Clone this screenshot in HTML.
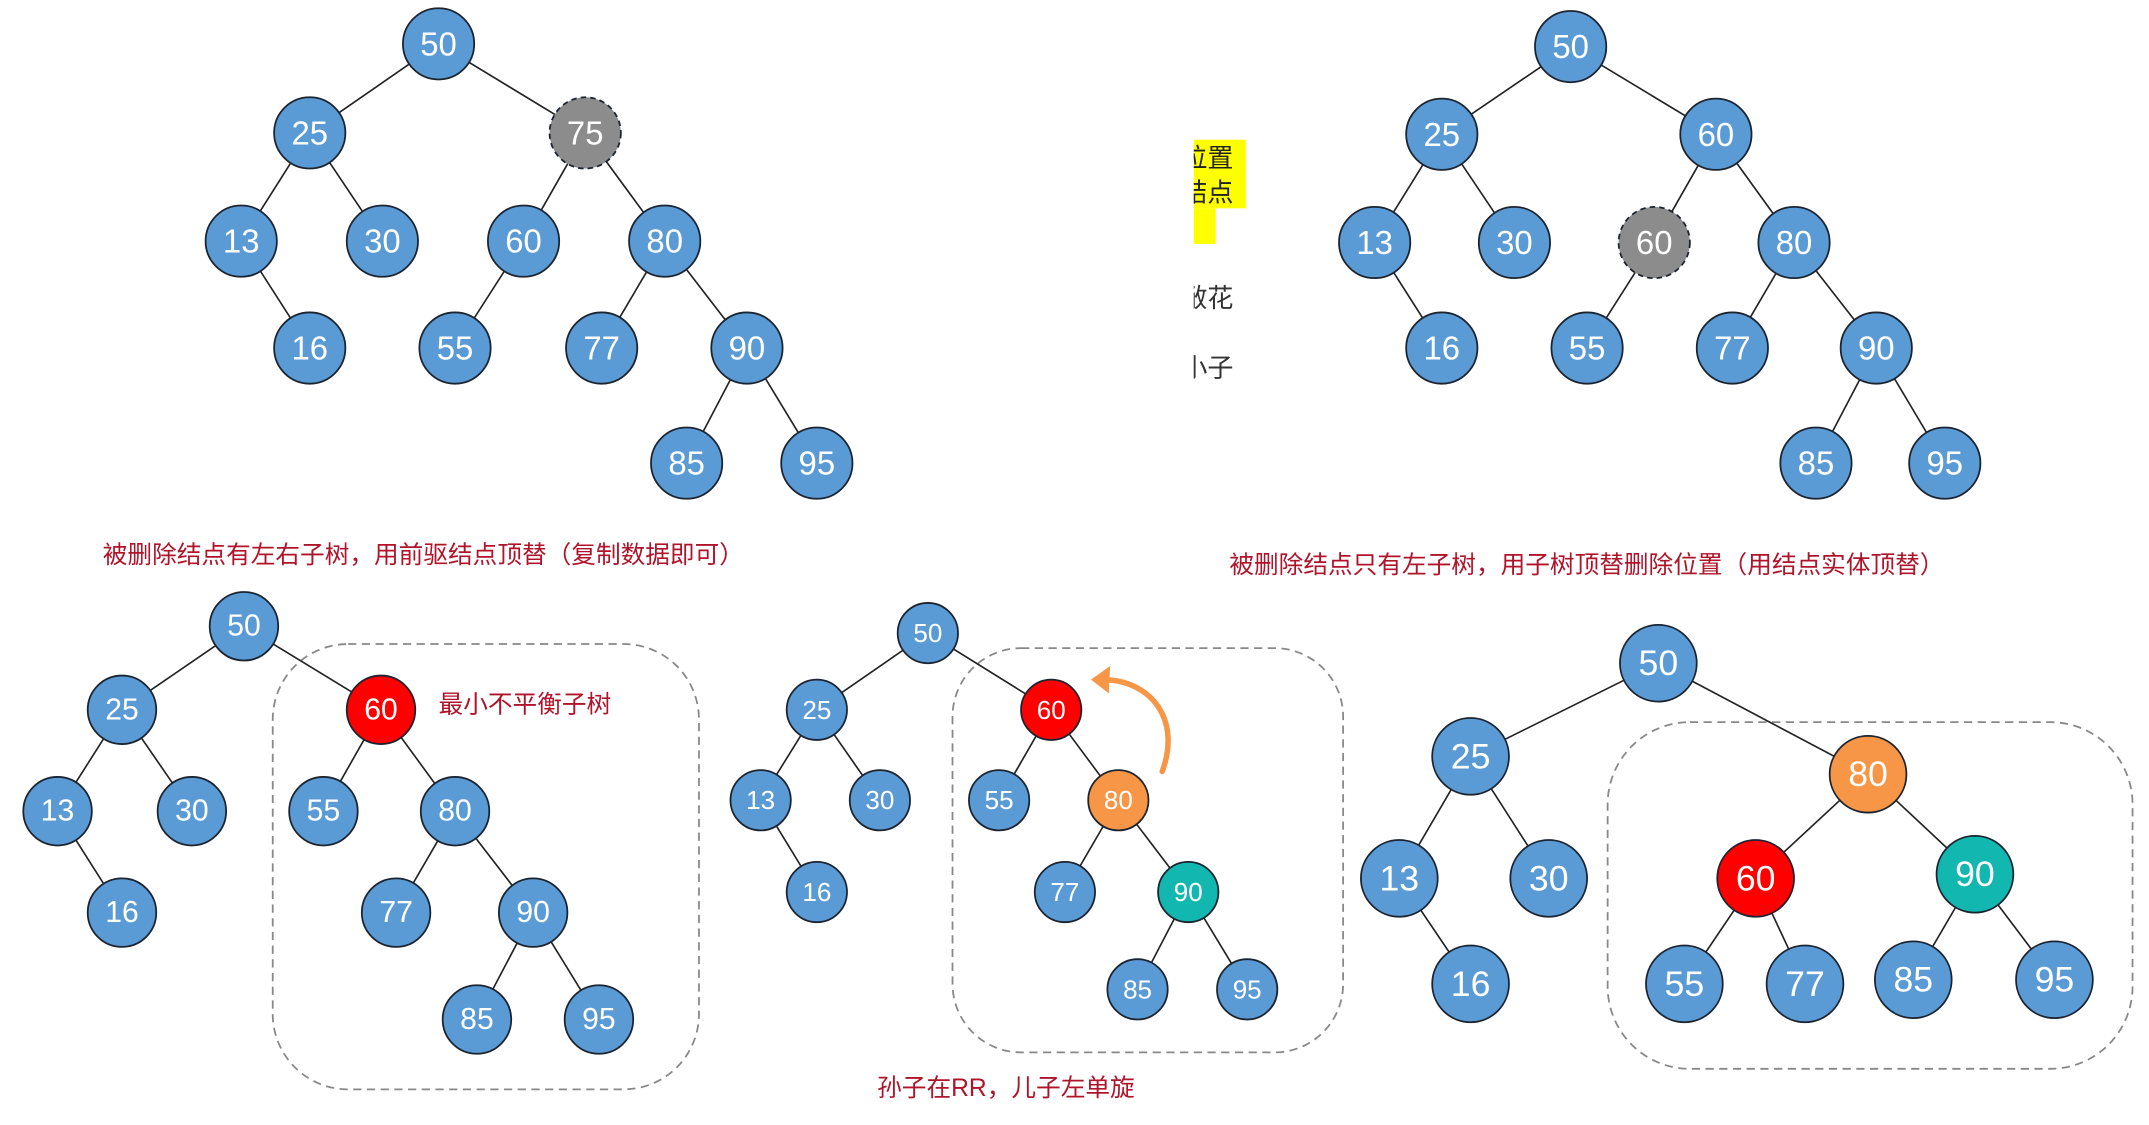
<!DOCTYPE html>
<html><head><meta charset="utf-8"><style>
html,body{margin:0;padding:0;background:#fff;}
svg{display:block}
.n{stroke:#1c2430;stroke-width:1.3}
.b{fill:#5b9bd5}.r{fill:#f00}.o{fill:#f79646}.t{fill:#12b8b0}.g{fill:#8c8c8c;stroke-dasharray:4 3}
text{font-family:"Liberation Sans","Noto Sans CJK SC",sans-serif}
.l{fill:#fff;text-anchor:middle;dominant-baseline:central}
line{stroke:#222;stroke-width:1.2}
.cap{fill:#b0142a;font-size:18px}
.box{fill:none;stroke:#888;stroke-width:1.3;stroke-dasharray:6 4}
</style></head><body>
<svg width="2149" height="1125" viewBox="0 0 1568 821" preserveAspectRatio="none" xmlns="http://www.w3.org/2000/svg">
<defs><clipPath id="cp"><rect x="871" y="90" width="60" height="200"/></clipPath></defs>
<!-- Tree 1 -->
<g font-size="24">
<line x1="320" y1="32" x2="226" y2="97"/><line x1="320" y1="32" x2="427" y2="97"/>
<line x1="226" y1="97" x2="176" y2="176"/><line x1="226" y1="97" x2="279" y2="176"/>
<line x1="176" y1="176" x2="226" y2="254"/>
<line x1="427" y1="97" x2="382" y2="176"/><line x1="427" y1="97" x2="485" y2="176"/>
<line x1="382" y1="176" x2="332" y2="254"/>
<line x1="485" y1="176" x2="439" y2="254"/><line x1="485" y1="176" x2="545" y2="254"/>
<line x1="545" y1="254" x2="501" y2="338"/><line x1="545" y1="254" x2="596" y2="338"/>
<circle class="n b" cx="320" cy="32" r="26"/><text class="l" x="320" y="32">50</text>
<circle class="n b" cx="226" cy="97" r="26"/><text class="l" x="226" y="97">25</text>
<circle class="n g" cx="427" cy="97" r="26"/><text class="l" x="427" y="97">75</text>
<circle class="n b" cx="176" cy="176" r="26"/><text class="l" x="176" y="176">13</text>
<circle class="n b" cx="279" cy="176" r="26"/><text class="l" x="279" y="176">30</text>
<circle class="n b" cx="382" cy="176" r="26"/><text class="l" x="382" y="176">60</text>
<circle class="n b" cx="485" cy="176" r="26"/><text class="l" x="485" y="176">80</text>
<circle class="n b" cx="226" cy="254" r="26"/><text class="l" x="226" y="254">16</text>
<circle class="n b" cx="332" cy="254" r="26"/><text class="l" x="332" y="254">55</text>
<circle class="n b" cx="439" cy="254" r="26"/><text class="l" x="439" y="254">77</text>
<circle class="n b" cx="545" cy="254" r="26"/><text class="l" x="545" y="254">90</text>
<circle class="n b" cx="501" cy="338" r="26"/><text class="l" x="501" y="338">85</text>
<circle class="n b" cx="596" cy="338" r="26"/><text class="l" x="596" y="338">95</text>
</g>
<text class="cap" x="75" y="411">被删除结点有左右子树，用前驱结点顶替（复制数据即可）</text>

<!-- middle cropped text -->
<g clip-path="url(#cp)">
<rect x="871" y="102" width="38" height="50" fill="#ffff00"/>
<rect x="871" y="152" width="16" height="26" fill="#ffff00"/>
<g font-size="19" fill="#222">
<text x="862" y="122">位置</text><text x="862" y="147">结点</text><text x="862" y="174">。</text>
<text x="862" y="224" fill="#333">敝花</text><text x="862" y="275" fill="#333">小子</text>
</g></g>

<!-- Tree 2 -->
<g font-size="24">
<line x1="1146" y1="34" x2="1052" y2="98"/><line x1="1146" y1="34" x2="1252" y2="98"/>
<line x1="1052" y1="98" x2="1003" y2="177"/><line x1="1052" y1="98" x2="1105" y2="177"/>
<line x1="1003" y1="177" x2="1052" y2="254"/>
<line x1="1252" y1="98" x2="1207" y2="177"/><line x1="1252" y1="98" x2="1309" y2="177"/>
<line x1="1207" y1="177" x2="1158" y2="254"/>
<line x1="1309" y1="177" x2="1264" y2="254"/><line x1="1309" y1="177" x2="1369" y2="254"/>
<line x1="1369" y1="254" x2="1325" y2="338"/><line x1="1369" y1="254" x2="1419" y2="338"/>
<circle class="n b" cx="1146" cy="34" r="26"/><text class="l" x="1146" y="34">50</text>
<circle class="n b" cx="1052" cy="98" r="26"/><text class="l" x="1052" y="98">25</text>
<circle class="n b" cx="1252" cy="98" r="26"/><text class="l" x="1252" y="98">60</text>
<circle class="n b" cx="1003" cy="177" r="26"/><text class="l" x="1003" y="177">13</text>
<circle class="n b" cx="1105" cy="177" r="26"/><text class="l" x="1105" y="177">30</text>
<circle class="n g" cx="1207" cy="177" r="26"/><text class="l" x="1207" y="177">60</text>
<circle class="n b" cx="1309" cy="177" r="26"/><text class="l" x="1309" y="177">80</text>
<circle class="n b" cx="1052" cy="254" r="26"/><text class="l" x="1052" y="254">16</text>
<circle class="n b" cx="1158" cy="254" r="26"/><text class="l" x="1158" y="254">55</text>
<circle class="n b" cx="1264" cy="254" r="26"/><text class="l" x="1264" y="254">77</text>
<circle class="n b" cx="1369" cy="254" r="26"/><text class="l" x="1369" y="254">90</text>
<circle class="n b" cx="1325" cy="338" r="26"/><text class="l" x="1325" y="338">85</text>
<circle class="n b" cx="1419" cy="338" r="26"/><text class="l" x="1419" y="338">95</text>
</g>
<text class="cap" x="897" y="418">被删除结点只有左子树，用子树顶替删除位置（用结点实体顶替）</text>

<!-- Bottom tree 1 -->
<rect class="box" x="199" y="470" width="311" height="325" rx="55"/>
<g font-size="22">
<line x1="178" y1="457" x2="89" y2="518"/><line x1="178" y1="457" x2="278" y2="518"/>
<line x1="89" y1="518" x2="42" y2="592"/><line x1="89" y1="518" x2="140" y2="592"/>
<line x1="42" y1="592" x2="89" y2="666"/>
<line x1="278" y1="518" x2="236" y2="592"/><line x1="278" y1="518" x2="332" y2="592"/>
<line x1="332" y1="592" x2="289" y2="666"/><line x1="332" y1="592" x2="389" y2="666"/>
<line x1="389" y1="666" x2="348" y2="744"/><line x1="389" y1="666" x2="437" y2="744"/>
<circle class="n b" cx="178" cy="457" r="25"/><text class="l" x="178" y="457">50</text>
<circle class="n b" cx="89" cy="518" r="25"/><text class="l" x="89" y="518">25</text>
<circle class="n r" cx="278" cy="518" r="25"/><text class="l" x="278" y="518">60</text>
<circle class="n b" cx="42" cy="592" r="25"/><text class="l" x="42" y="592">13</text>
<circle class="n b" cx="140" cy="592" r="25"/><text class="l" x="140" y="592">30</text>
<circle class="n b" cx="236" cy="592" r="25"/><text class="l" x="236" y="592">55</text>
<circle class="n b" cx="332" cy="592" r="25"/><text class="l" x="332" y="592">80</text>
<circle class="n b" cx="89" cy="666" r="25"/><text class="l" x="89" y="666">16</text>
<circle class="n b" cx="289" cy="666" r="25"/><text class="l" x="289" y="666">77</text>
<circle class="n b" cx="389" cy="666" r="25"/><text class="l" x="389" y="666">90</text>
<circle class="n b" cx="348" cy="744" r="25"/><text class="l" x="348" y="744">85</text>
<circle class="n b" cx="437" cy="744" r="25"/><text class="l" x="437" y="744">95</text>
</g>
<text class="cap" x="320" y="520">最小不平衡子树</text>

<!-- Bottom tree 2 -->
<rect class="box" x="695" y="473" width="285" height="295" rx="50"/>
<g font-size="19">
<line x1="677" y1="462" x2="596" y2="518"/><line x1="677" y1="462" x2="767" y2="518"/>
<line x1="596" y1="518" x2="555" y2="584"/><line x1="596" y1="518" x2="642" y2="584"/>
<line x1="555" y1="584" x2="596" y2="651"/>
<line x1="767" y1="518" x2="729" y2="584"/><line x1="767" y1="518" x2="816" y2="584"/>
<line x1="816" y1="584" x2="777" y2="651"/><line x1="816" y1="584" x2="867" y2="651"/>
<line x1="867" y1="651" x2="830" y2="722"/><line x1="867" y1="651" x2="910" y2="722"/>
<circle class="n b" cx="677" cy="462" r="22"/><text class="l" x="677" y="462">50</text>
<circle class="n b" cx="596" cy="518" r="22"/><text class="l" x="596" y="518">25</text>
<circle class="n r" cx="767" cy="518" r="22"/><text class="l" x="767" y="518">60</text>
<circle class="n b" cx="555" cy="584" r="22"/><text class="l" x="555" y="584">13</text>
<circle class="n b" cx="642" cy="584" r="22"/><text class="l" x="642" y="584">30</text>
<circle class="n b" cx="729" cy="584" r="22"/><text class="l" x="729" y="584">55</text>
<circle class="n o" cx="816" cy="584" r="22"/><text class="l" x="816" y="584">80</text>
<circle class="n b" cx="596" cy="651" r="22"/><text class="l" x="596" y="651">16</text>
<circle class="n b" cx="777" cy="651" r="22"/><text class="l" x="777" y="651">77</text>
<circle class="n t" cx="867" cy="651" r="22"/><text class="l" x="867" y="651">90</text>
<circle class="n b" cx="830" cy="722" r="22"/><text class="l" x="830" y="722">85</text>
<circle class="n b" cx="910" cy="722" r="22"/><text class="l" x="910" y="722">95</text>
</g>
<path d="M848 563 C862 525 840 497 806 496" fill="none" stroke="#f79646" stroke-width="4" stroke-linecap="round"/>
<path d="M796 496 L810 486 L809 506 Z" fill="#f79646"/>
<text class="cap" x="640" y="800" font-size="16">孙子在RR，儿子左单旋</text>

<!-- Bottom tree 3 -->
<rect class="box" x="1173" y="527" width="383" height="253" rx="60"/>
<g font-size="26">
<line x1="1210" y1="484" x2="1073" y2="552"/><line x1="1210" y1="484" x2="1363" y2="565"/>
<line x1="1073" y1="552" x2="1021" y2="641"/><line x1="1073" y1="552" x2="1130" y2="641"/>
<line x1="1021" y1="641" x2="1073" y2="718"/>
<line x1="1363" y1="565" x2="1281" y2="641"/><line x1="1363" y1="565" x2="1441" y2="638"/>
<line x1="1281" y1="641" x2="1229" y2="718"/><line x1="1281" y1="641" x2="1317" y2="718"/>
<line x1="1441" y1="638" x2="1396" y2="715"/><line x1="1441" y1="638" x2="1499" y2="715"/>
<circle class="n b" cx="1210" cy="484" r="28"/><text class="l" x="1210" y="484">50</text>
<circle class="n b" cx="1073" cy="552" r="28"/><text class="l" x="1073" y="552">25</text>
<circle class="n o" cx="1363" cy="565" r="28"/><text class="l" x="1363" y="565">80</text>
<circle class="n b" cx="1021" cy="641" r="28"/><text class="l" x="1021" y="641">13</text>
<circle class="n b" cx="1130" cy="641" r="28"/><text class="l" x="1130" y="641">30</text>
<circle class="n r" cx="1281" cy="641" r="28"/><text class="l" x="1281" y="641">60</text>
<circle class="n t" cx="1441" cy="638" r="28"/><text class="l" x="1441" y="638">90</text>
<circle class="n b" cx="1073" cy="718" r="28"/><text class="l" x="1073" y="718">16</text>
<circle class="n b" cx="1229" cy="718" r="28"/><text class="l" x="1229" y="718">55</text>
<circle class="n b" cx="1317" cy="718" r="28"/><text class="l" x="1317" y="718">77</text>
<circle class="n b" cx="1396" cy="715" r="28"/><text class="l" x="1396" y="715">85</text>
<circle class="n b" cx="1499" cy="715" r="28"/><text class="l" x="1499" y="715">95</text>
</g>
</svg>
</body></html>
